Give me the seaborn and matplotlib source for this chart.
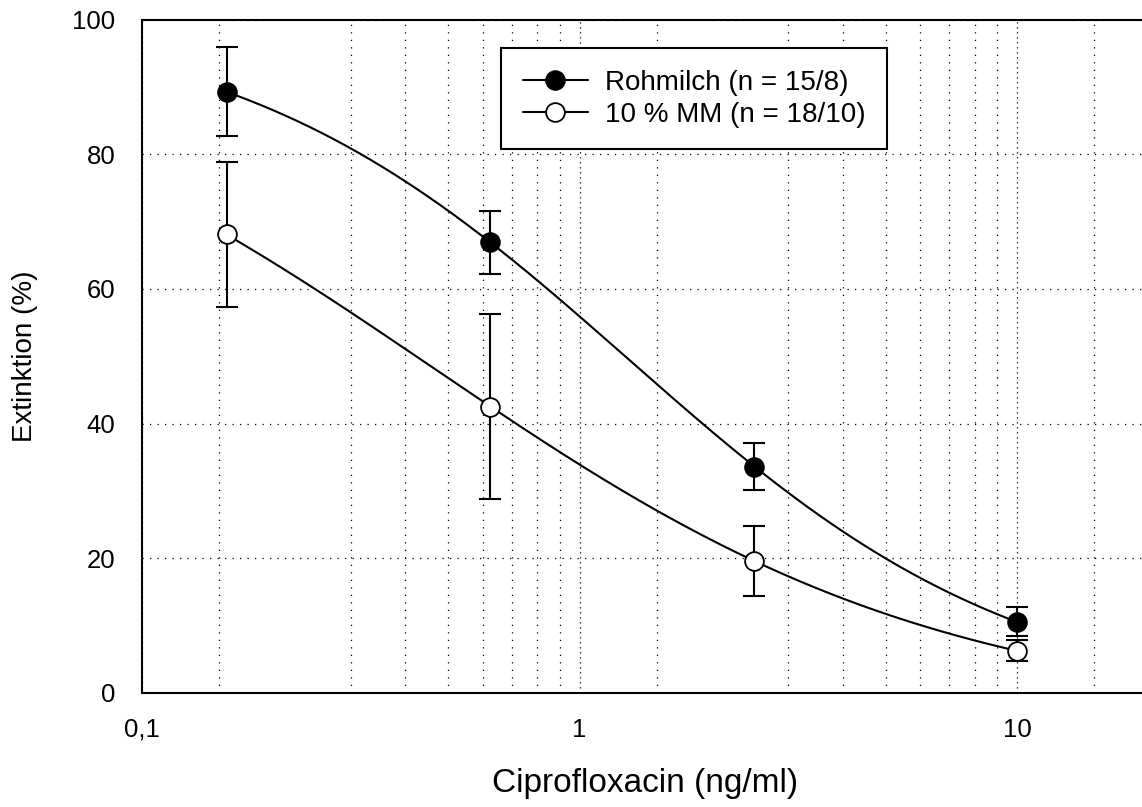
import numpy as np
import pandas as pd
import matplotlib
matplotlib.use("Agg")
import matplotlib.pyplot as plt
import seaborn as sns
from matplotlib.lines import Line2D
from matplotlib.ticker import FixedLocator, FixedFormatter, NullFormatter

# data
conc = [0.156, 0.625, 2.5, 10]
rohmilch = [89.3, 66.9, 33.6, 10.6]
rohmilch_err = [6.6, 4.7, 3.5, 2.1]
mm = [68.1, 42.5, 19.6, 6.3]
mm_err = [10.8, 13.7, 5.2, 1.5]

labels = ["Rohmilch (n = 15/8)", "10 % MM (n = 18/10)"]
x_major = [0.1, 1, 10]
x_major_labels = ["0,1", "1", "10"]
x_minor = [0.15, 0.3, 0.4, 0.5, 0.6, 0.7, 0.8, 0.9,
           1.5, 3, 4, 5, 6, 7, 8, 9, 15]
y_ticks = [0, 20, 40, 60, 80, 100]

sns.set_style("white")
plt.rcParams["font.family"] = ["Liberation Sans", "DejaVu Sans"]
plt.rcParams["text.color"] = "black"
plt.rcParams["axes.labelcolor"] = "black"
plt.rcParams["xtick.color"] = "black"
plt.rcParams["ytick.color"] = "black"

fig = plt.figure(figsize=(11.42, 8.07), dpi=100)
ax = fig.add_axes([142 / 1142, 1 - 693 / 807, 1007 / 1142, 673.5 / 807])


# four parameter logistic fit (grid over ec50/hill, top/bottom by least squares)
def fit_curve(xv, yv):
    lx = np.log10(xv)
    yv = np.asarray(yv, dtype=float)
    best = None
    for c in np.linspace(-1.0, 1.5, 201):
        for h in np.linspace(0.3, 3.0, 136):
            s = 1 / (1 + 10 ** ((lx - c) * h))
            A = np.column_stack([s, 1 - s])
            coef = np.linalg.lstsq(A, yv, rcond=None)[0]
            err = np.sum((A @ coef - yv) ** 2)
            if best is None or err < best[0]:
                best = (err, c, h, coef)
    _, c, h, coef = best
    xs = np.linspace(lx[0], lx[-1], 200)
    s = 1 / (1 + 10 ** ((xs - c) * h))
    return pd.DataFrame({"x": 10 ** xs, "y": coef[0] * s + coef[1] * (1 - s)})


series = [
    (rohmilch, rohmilch_err, "black"),
    (mm, mm_err, "white"),
]

for yv, ev, face in series:
    curve = fit_curve(conc, yv)
    sns.lineplot(data=curve, x="x", y="y", ax=ax, color="black",
                 linewidth=1.5, sort=False, zorder=2)
    ax.errorbar(conc, yv, yerr=ev, fmt="none", ecolor="black",
                elinewidth=1.5, capsize=8, capthick=1.5, zorder=3)
    ax.plot(conc, yv, linestyle="none", marker="o", markersize=13.5,
            markerfacecolor=face, markeredgecolor="black",
            markeredgewidth=1.3, zorder=4, clip_on=False)

ax.set_xscale("log")
ax.set_xlim(0.1, 20)
ax.set_ylim(0, 100)

ax.xaxis.set_major_locator(FixedLocator(x_major))
ax.xaxis.set_major_formatter(FixedFormatter(x_major_labels))
ax.xaxis.set_minor_locator(FixedLocator(x_minor))
ax.xaxis.set_minor_formatter(NullFormatter())
ax.set_yticks(y_ticks)

ax.grid(which="major", axis="x", color="black", linestyle=(0, (1, 3)), linewidth=0.9)
ax.grid(which="minor", axis="x", color="black", linestyle=(0, (1, 5)), linewidth=0.9)
ax.grid(which="major", axis="y", color="black", linestyle=(0, (1, 5)), linewidth=0.9)
ax.set_axisbelow(True)

for side in ["left", "bottom", "top"]:
    ax.spines[side].set_linewidth(1.5)
    ax.spines[side].set_color("black")
ax.spines["right"].set_visible(False)

ax.tick_params(axis="both", which="major", direction="out", length=8,
               width=1.5, labelsize=18.5, color="black", labelcolor="black")
ax.tick_params(axis="x", which="major", pad=10)
ax.tick_params(axis="y", which="major", pad=11)
ax.tick_params(axis="x", which="minor", direction="out", length=4.5, width=1.1)

ax.set_xlabel("Ciprofloxacin (ng/ml)", fontsize=24, labelpad=19, color="black")
ax.set_ylabel("Extinktion (%)", fontsize=20, labelpad=25, color="black")

handles = [
    Line2D([], [], color="black", linewidth=1.5, marker="o", markersize=13.5,
           markerfacecolor="black", markeredgecolor="black", markeredgewidth=1.3),
    Line2D([], [], color="black", linewidth=1.5, marker="o", markersize=13.5,
           markerfacecolor="white", markeredgecolor="black", markeredgewidth=1.3),
]
leg = ax.legend(handles, labels, loc="upper left",
                bbox_to_anchor=(0.3565, 0.9577), borderaxespad=0,
                fontsize=20, frameon=True, fancybox=False,
                edgecolor="black", framealpha=1, handlelength=2.35,
                handletextpad=0.6, labelspacing=0.22, borderpad=0.78)
leg.get_frame().set_linewidth(1.5)
for t in leg.get_texts():
    t.set_color("black")

fig.savefig("out.png", dpi=100)
